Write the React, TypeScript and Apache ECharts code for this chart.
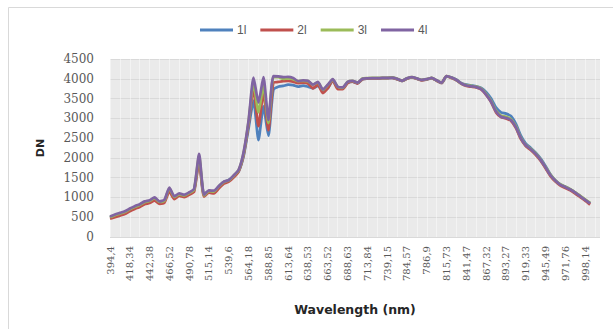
import React, { useEffect, useRef } from "react";
import * as echarts from "echarts";

const tickLabels = [
  "394,4", "418,34", "442,38", "466,52", "490,78", "515,14", "539,6", "564,18",
  "588,85", "613,64", "638,53", "663,52", "688,63", "713,84", "739,15", "784,57",
  "786,9", "815,73", "841,47", "867,32", "893,27", "919,33", "945,49", "971,76", "998,14",
];
const labelEvery = 4;
const categoryCount = 100;

const seriesNames = ["1l", "2l", "3l", "4l"];
const seriesColors = ["#4F81BD", "#C0504D", "#9BBB59", "#8064A2"];

const s1 = [
  490, 540, 580, 620, 690, 750, 800, 860, 900, 960,
  880, 910, 1200, 1010, 1080, 1050, 1110, 1190, 1950, 1060,
  1160, 1150, 1280, 1390, 1440, 1540, 1660, 2050, 2750, 3450,
  2450, 3300, 2560, 3720, 3800, 3820, 3850, 3840, 3800, 3830,
  3800, 3760, 3820, 3700, 3760, 3950, 3780, 3760, 3900, 3930,
  3890, 3990, 4005, 4010, 4010, 4015, 4015, 4025, 3990, 3945,
  4005, 4035, 4005, 3965, 3985, 4015, 3955, 3895, 4060, 4030,
  3975, 3890, 3850, 3830, 3810, 3770, 3660, 3500, 3270, 3150,
  3120, 3060, 2860, 2560, 2360, 2250, 2130, 1980, 1790, 1580,
  1430, 1330, 1270, 1200, 1120, 1030, 940, 850,
];
const s2 = [
  460, 500, 540, 580, 650, 710, 760, 830, 860, 920,
  840, 870, 1150, 960, 1040, 1010, 1070, 1150, 1900, 1020,
  1120, 1100, 1230, 1350, 1400, 1510, 1660, 2080, 2850, 3750,
  2800, 3650, 2700, 3900, 3920, 3940, 3950, 3930, 3890, 3900,
  3880, 3760, 3850, 3640, 3760, 3960, 3740, 3740, 3890, 3930,
  3880, 3990, 4005, 4010, 4010, 4015, 4015, 4025, 3990, 3945,
  4000, 4035, 4000, 3960, 3985, 4015, 3950, 3895, 4070, 4020,
  3960, 3870, 3820, 3800, 3780, 3730, 3590, 3410, 3150, 3030,
  3000, 2940, 2760, 2480, 2300, 2200, 2080, 1930, 1740, 1540,
  1400, 1300, 1240, 1180, 1100, 1010, 920, 820,
];
const s3 = [
  500, 550, 590, 630, 700, 760, 810, 880, 910, 980,
  890, 920, 1230, 1010, 1080, 1050, 1110, 1200, 2050, 1050,
  1160, 1150, 1280, 1390, 1430, 1550, 1690, 2120, 2920, 3900,
  3150, 3820, 2880, 4040, 4040, 4000, 4010, 3990, 3940, 3950,
  3940, 3850, 3910, 3720, 3840, 3980, 3800, 3770, 3920, 3950,
  3900, 4005, 4015, 4020, 4020, 4025, 4025, 4035, 4000, 3950,
  4010, 4040, 4010, 3970, 3990, 4020, 3960, 3900, 4070, 4030,
  3970, 3880, 3840, 3820, 3800, 3750, 3620, 3440, 3190, 3070,
  3040, 2980, 2800, 2510, 2330, 2230, 2110, 1960, 1770, 1570,
  1430, 1330, 1270, 1210, 1130, 1040, 950, 860,
];
const s4 = [
  520, 570, 610, 650, 720, 780, 830, 900, 930, 1000,
  900, 940, 1250, 1030, 1100, 1070, 1130, 1220, 2100, 1070,
  1180, 1170, 1290, 1400, 1440, 1560, 1700, 2150, 2950, 4030,
  3400, 4040, 2960, 4070, 4060, 4040, 4050, 4020, 3940, 3960,
  3950, 3850, 3920, 3730, 3850, 3990, 3800, 3780, 3920, 3950,
  3900, 4000, 4010, 4015, 4015, 4020, 4020, 4030, 4000, 3950,
  4010, 4040, 4010, 3970, 3990, 4020, 3960, 3900, 4070, 4030,
  3970, 3880, 3830, 3810, 3790, 3740, 3600, 3420, 3170, 3040,
  3010, 2960, 2780, 2500, 2320, 2220, 2100, 1950, 1760, 1560,
  1420, 1320, 1260, 1200, 1120, 1030, 940, 850,
];
const seriesData = [s1, s2, s3, s4];

const yMin = 0;
const yMax = 4500;
const yInterval = 500;

export default function App() {
  const ref = useRef<HTMLDivElement>(null);
  useEffect(() => {
    if (!ref.current) return;
    const chart = echarts.init(ref.current, null, { renderer: "svg" });
    const categories = Array.from({ length: categoryCount }, (_, i) => String(i));
    chart.setOption({
      animation: false,
      backgroundColor: "#ffffff",
      graphic: [
        {
          type: "rect",
          shape: { x: 8.5, y: 7.5, width: 700, height: 400 },
          style: { fill: "none", stroke: "#d9d9d9", lineWidth: 1 },
          silent: true,
        },
      ],
      legend: {
        data: seriesNames,
        left: 200,
        top: 24,
        padding: 0,
        itemWidth: 33,
        itemHeight: 3,
        itemGap: 14,
        icon: "rect",
        textStyle: { fontFamily: "Liberation Sans", fontSize: 12, color: "#595959", padding: [0, 0, 0, -1] },
      },
      grid: {
        left: 110,
        right: 13,
        top: 59,
        bottom: 92,
        show: true,
        backgroundColor: "#eaeaea",
        borderWidth: 0,
      },
      xAxis: {
        type: "category",
        data: categories,
        boundaryGap: false,
        name: "Wavelength (nm)",
        nameLocation: "middle",
        nameGap: 66,
        nameTextStyle: { fontFamily: "DejaVu Sans", fontWeight: "bold", fontSize: 12.5, color: "#262626" },
        axisLine: { show: false },
        axisTick: { show: false },
        axisLabel: {
          interval: labelEvery - 1,
          rotate: 90,
          margin: 9,
          fontFamily: "DejaVu Serif",
          fontSize: 10,
          color: "#595959",
          formatter: (_v: string, idx: number) =>
            idx % labelEvery === 0 && tickLabels[idx / labelEvery] ? tickLabels[idx / labelEvery] : "",
        },
        splitLine: { show: true, interval: 1, lineStyle: { color: "rgba(255,255,255,0.45)", width: 1 } },
      },
      yAxis: {
        type: "value",
        min: yMin,
        max: yMax,
        interval: yInterval,
        name: "DN",
        nameLocation: "middle",
        nameGap: 64,
        nameTextStyle: { fontFamily: "DejaVu Sans", fontWeight: "bold", fontSize: 11, color: "#262626" },
        axisLine: { show: false },
        axisTick: { show: false },
        axisLabel: {
          margin: 16,
          fontFamily: "DejaVu Serif",
          fontSize: 12,
          color: "#595959",
          formatter: (v: number) => String(v),
        },
        splitLine: { show: true, lineStyle: { color: "#d9d9d9", width: 1 } },
      },
      series: seriesNames.map((name, k) => ({
        name,
        type: "line",
        data: seriesData[k],
        symbol: "none",
        smooth: 0.2,
        itemStyle: { color: seriesColors[k] },
        lineStyle: { color: seriesColors[k], width: 2.75 },
        z: 2 + k,
      })),
    });
    return () => chart.dispose();
  }, []);
  return <div ref={ref} style={{ width: 613, height: 329, position: "absolute", left: 0, top: 0 }} />;
}
